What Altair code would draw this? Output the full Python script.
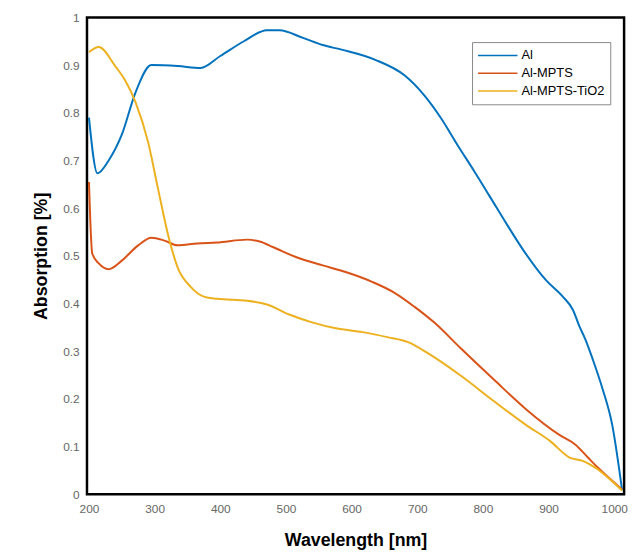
import altair as alt
import pandas as pd

al_x = [200, 213, 230, 250, 271, 295, 335, 370, 400, 436, 471, 490, 526, 556, 586, 636, 681, 711, 737, 761, 787, 812, 836, 862, 896, 922, 937, 947, 956, 967, 982, 997, 1012]
al_y = [0.79, 0.673, 0.70, 0.754, 0.843, 0.90, 0.898, 0.894, 0.919, 0.95, 0.973, 0.973, 0.957, 0.942, 0.932, 0.911, 0.878, 0.836, 0.787, 0.733, 0.677, 0.621, 0.567, 0.511, 0.449, 0.414, 0.387, 0.352, 0.325, 0.284, 0.222, 0.145, 0.008]

mp_x = [200, 205, 215, 230, 250, 275, 295, 315, 335, 365, 395, 441, 460, 481, 516, 556, 591, 632, 666, 696, 726, 767, 817, 866, 917, 941, 960, 975, 1012]
mp_y = [0.655, 0.505, 0.484, 0.472, 0.49, 0.522, 0.538, 0.532, 0.522, 0.526, 0.528, 0.534, 0.530, 0.518, 0.497, 0.480, 0.466, 0.445, 0.422, 0.393, 0.36, 0.305, 0.24, 0.178, 0.124, 0.104, 0.077, 0.056, 0.01]

ti_x = [200, 215, 240, 255, 271, 290, 305, 320, 335, 355, 376, 395, 441, 471, 505, 541, 576, 617, 656, 686, 716, 767, 817, 866, 902, 932, 952, 971, 1012]
ti_y = [0.927, 0.938, 0.898, 0.868, 0.822, 0.739, 0.642, 0.547, 0.476, 0.435, 0.414, 0.41, 0.406, 0.398, 0.377, 0.36, 0.348, 0.34, 0.329, 0.319, 0.296, 0.248, 0.195, 0.145, 0.112, 0.077, 0.07, 0.056, 0.008]

series = ["Al", "Al-MPTS", "Al-MPTS-TiO2"]
colors = ["#0072BD", "#D95319", "#EDB120"]

rows = []
for name, xs, ys in [(series[0], al_x, al_y), (series[1], mp_x, mp_y), (series[2], ti_x, ti_y)]:
    for i, (a, b) in enumerate(zip(xs, ys)):
        rows.append({"series": name, "wl": a, "abs": b, "order": i})
df = pd.DataFrame(rows)

y_ticks = [0, 0.1, 0.2, 0.3, 0.4, 0.5, 0.6, 0.7, 0.8, 0.9, 1]
x_ticks = [200, 300, 400, 500, 600, 700, 800, 900, 1000]

chart = alt.Chart(df).mark_line(strokeWidth=2, interpolate="monotone").encode(
    x=alt.X("wl:Q", scale=alt.Scale(domain=[197, 1015], nice=False, zero=False),
            axis=alt.Axis(values=x_ticks, format="d", title="Wavelength [nm]", grid=False, ticks=False,
                          domain=False, labelColor="#666666", labelFontSize=12,
                          labelFont="Liberation Sans", labelPadding=9,
                          titleFont="Liberation Sans", titleFontSize=18, titleFontWeight="bold",
                          titleColor="#000000", titlePadding=18)),
    y=alt.Y("abs:Q", scale=alt.Scale(domain=[0, 1], nice=False),
            axis=alt.Axis(values=y_ticks, format="~g", title="Absorption [%]", grid=False, ticks=False,
                          domain=False, labelColor="#666666", labelFontSize=12,
                          labelFont="Liberation Sans", labelPadding=8,
                          titleFont="Liberation Sans", titleFontSize=18, titleFontWeight="bold",
                          titleColor="#000000", titlePadding=12)),
    color=alt.Color("series:N", scale=alt.Scale(domain=series, range=colors),
                    legend=alt.Legend(title=None, orient="none", legendX=390, legendY=25,
                                      symbolType="stroke", symbolSize=1600, symbolStrokeWidth=1.5,
                                      clipHeight=17,
                                      labelFont="Liberation Sans", labelFontSize=13, labelColor="#000000",
                                      strokeColor="#888888", fillColor="#ffffff", padding=5,
                                      rowPadding=1, labelOffset=3)),
    order="order:Q",
).properties(
    width=544, height=483,
    autosize=alt.AutoSizeParams(type="none"),
    padding={"left": 80, "top": 6, "right": 7, "bottom": 60},
).configure_view(stroke="#000000", strokeWidth=2.5)

chart.save("out.html", embed_options={"renderer": "svg", "actions": False})
